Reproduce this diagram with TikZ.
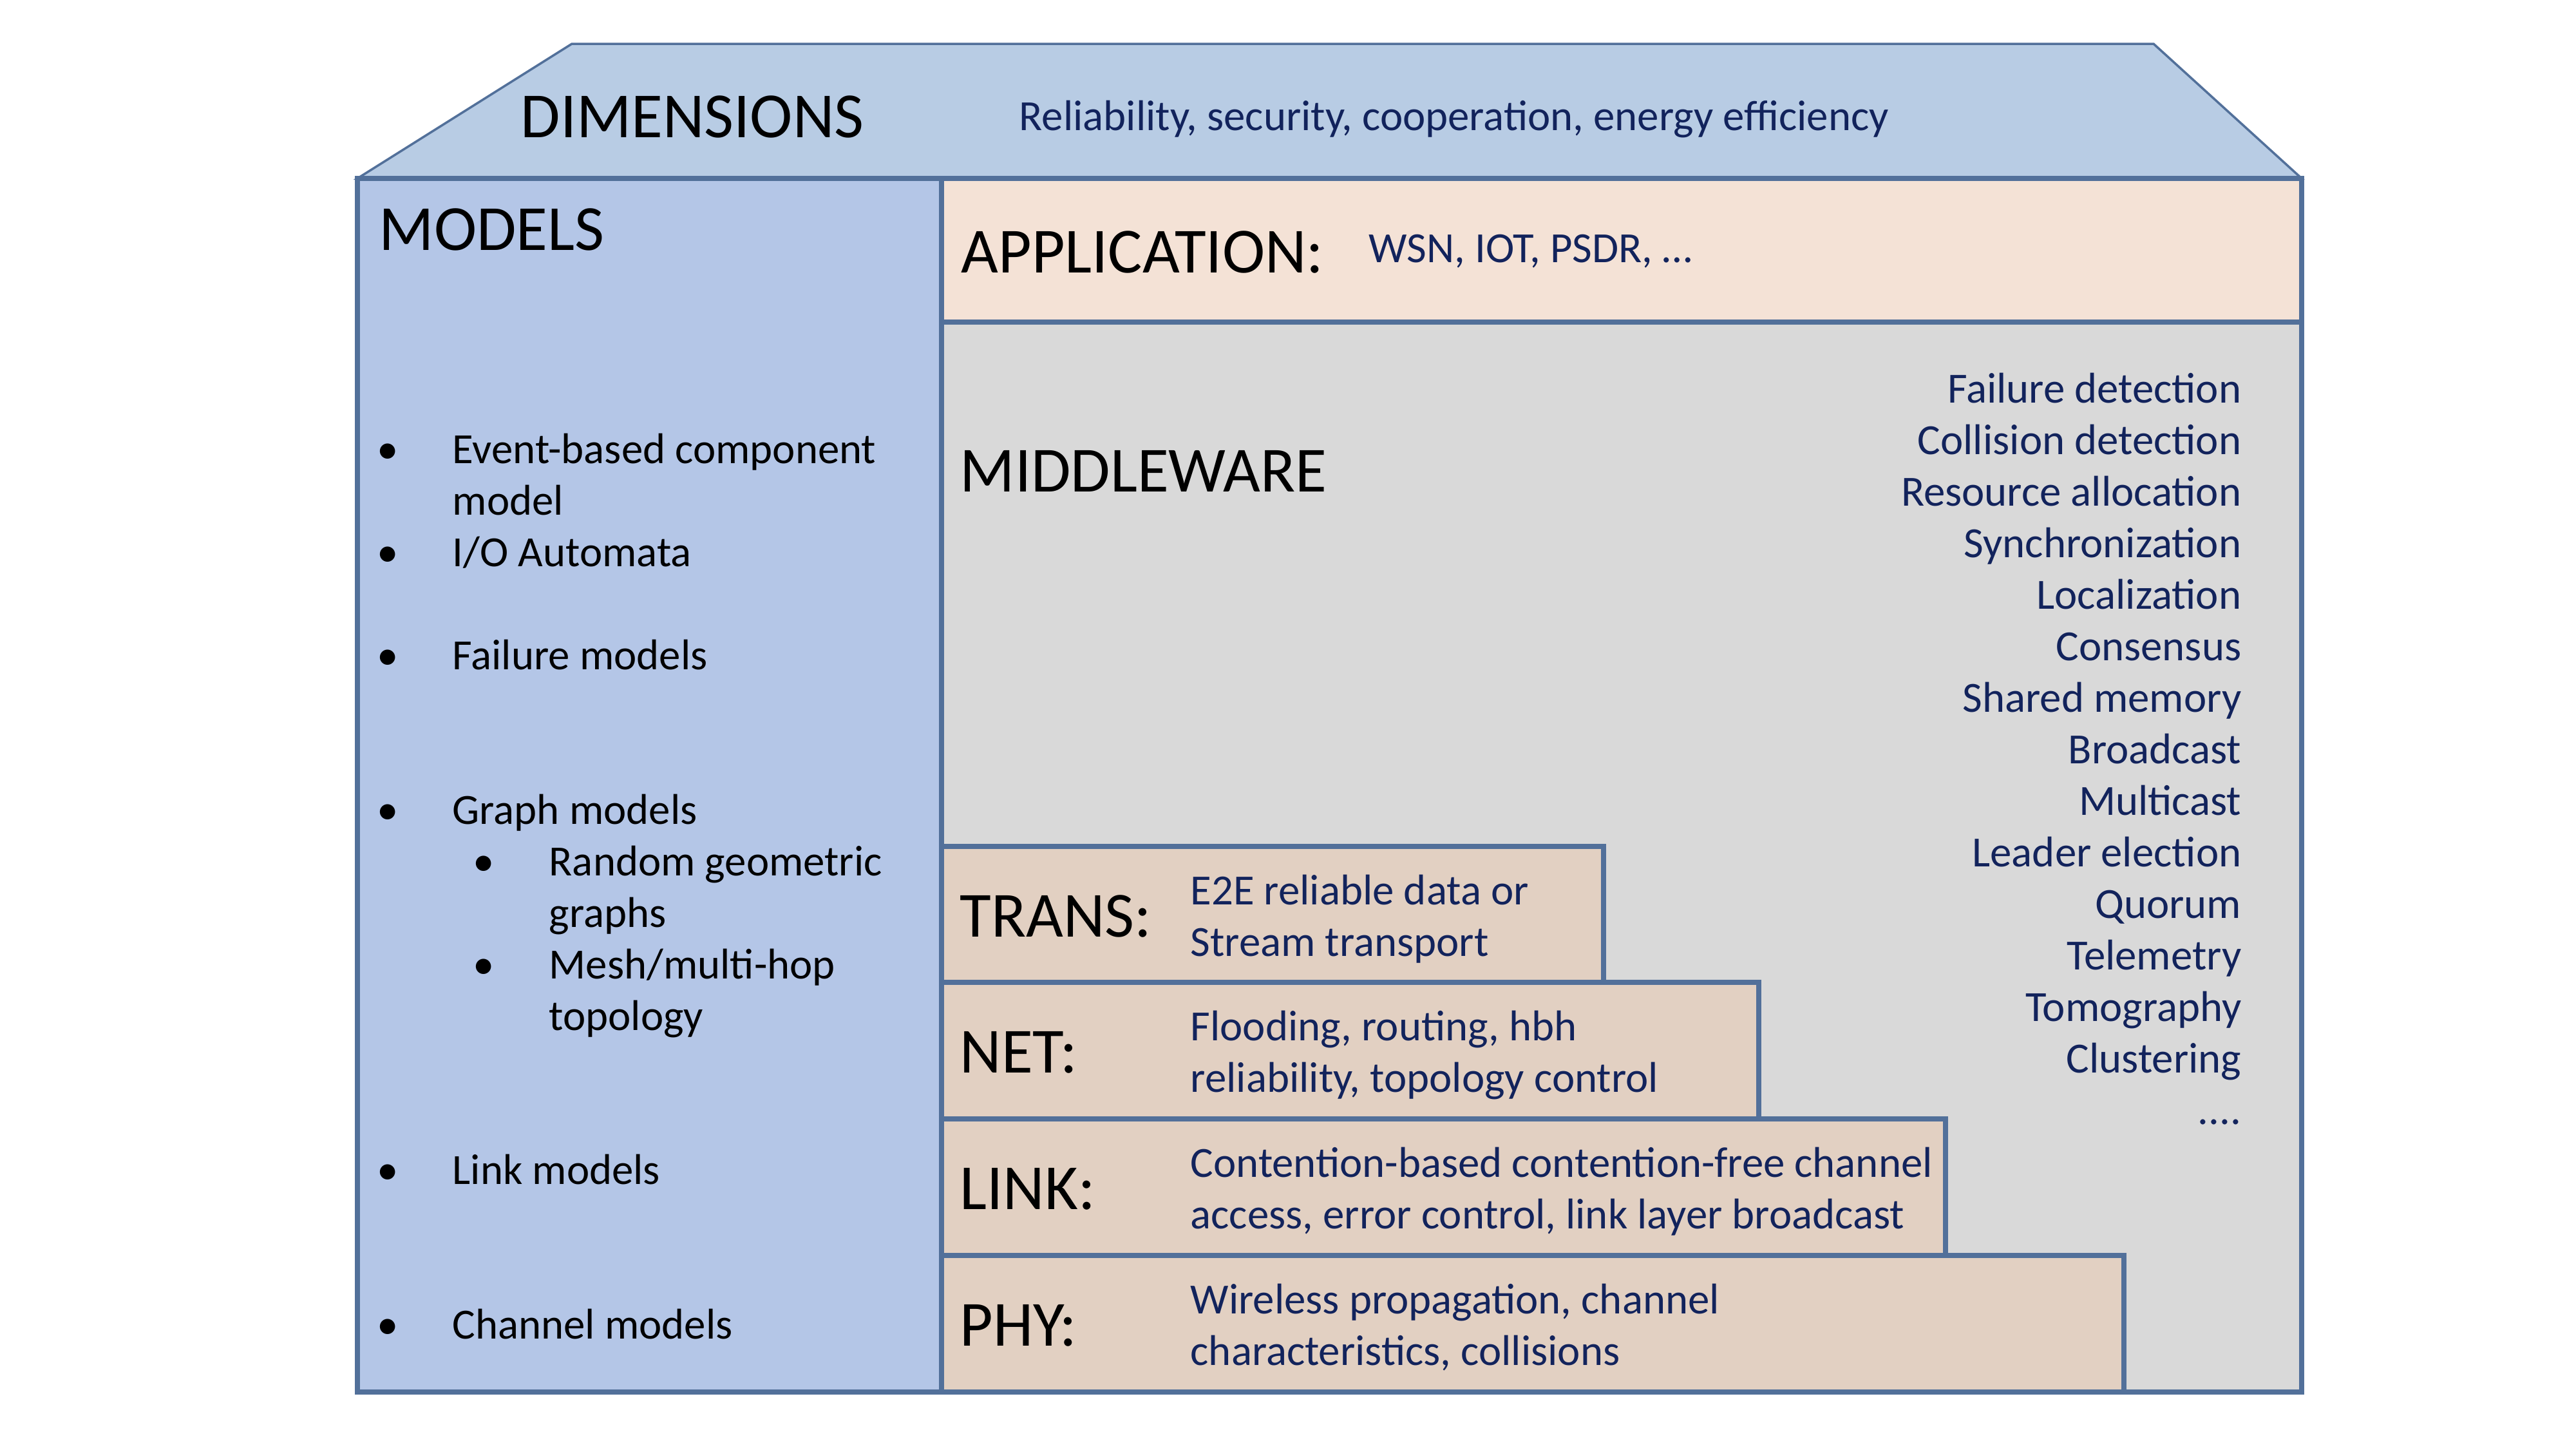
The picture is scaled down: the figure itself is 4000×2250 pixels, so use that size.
\documentclass[tikz,border=0pt]{standalone}
\usepackage{fontspec}
\setmainfont{Carlito}
\definecolor{frameblue}{HTML}{52709A}
\definecolor{roofblue}{HTML}{B8CCE4}
\definecolor{modelblue}{HTML}{B4C6E7}
\definecolor{appbeige}{HTML}{F4E2D6}
\definecolor{layertan}{HTML}{E2D0C2}
\definecolor{midgray}{HTML}{D9D9D9}
\definecolor{navytext}{HTML}{12235C}
\begin{document}
\begin{tikzpicture}[x=0.01cm,y=-0.01cm,
  panel/.style={draw=frameblue, line width=2.3pt, line join=miter},
  rooftop/.style={draw=frameblue, line width=1pt, fill=roofblue, line join=miter},
  heading/.style={font=\fontsize{28.4}{34}\selectfont, text=black, anchor=base west, inner sep=0pt},
  detail/.style={font=\fontsize{19}{22.8}\selectfont, text=navytext, anchor=base west, inner sep=0pt},
  listitem/.style={font=\fontsize{19}{22.8}\selectfont, text=black, anchor=base west, inner sep=0pt},
  bulletmark/.style={font=\fontsize{19}{22.8}\selectfont, text=black, anchor=base, inner sep=0pt},
  service/.style={font=\fontsize{19}{22.8}\selectfont, text=navytext, anchor=base east, inner sep=0pt}]

% canvas
\path[use as bounding box, fill=white] (0,0) rectangle (4000,2250);

% roof
\path[rooftop] (555,277) -- (888,68) -- (3344,68) -- (3574,277) -- cycle;

% main blocks
\path[panel, fill=modelblue] (555,277) rectangle (1462,2161);
\path[panel, fill=appbeige] (1462,277) rectangle (3574,500);
\path[panel, fill=midgray] (1462,500) rectangle (3574,2161);

% protocol stack layers
\path[panel, fill=layertan] (1462,1314) rectangle (2490,1525);
\path[panel, fill=layertan] (1462,1525) rectangle (2731,1737);
\path[panel, fill=layertan] (1462,1737) rectangle (3021,1949);
\path[panel, fill=layertan] (1462,1949) rectangle (3298,2161);

% roof texts
\node[heading] (dim) at (808,213) {DIMENSIONS};
\node[detail] (dimtxt) at (1582,202) {Reliability, security, cooperation, energy efficiency};

% models column
\node[heading] (models) at (588,388) {MODELS};
\node[bulletmark] (b1) at (602,719) {•};
\node[listitem] (i1a) at (702,719) {Event-based component};
\node[listitem] (i1b) at (702,799) {model};
\node[bulletmark] (b2) at (602,879) {•};
\node[listitem] (i2) at (702,879) {I/O Automata};
\node[bulletmark] (b3) at (602,1039) {•};
\node[listitem] (i3) at (702,1039) {Failure models};
\node[bulletmark] (b4) at (602,1279) {•};
\node[listitem] (i4) at (702,1279) {Graph models};
\node[bulletmark] (b4a) at (751,1359) {•};
\node[listitem] (i4a1) at (852,1359) {Random geometric};
\node[listitem] (i4a2) at (852,1439) {graphs};
\node[bulletmark] (b4b) at (751,1519) {•};
\node[listitem] (i4b1) at (852,1519) {Mesh/multi-hop};
\node[listitem] (i4b2) at (852,1599) {topology};
\node[bulletmark] (b5) at (602,1838) {•};
\node[listitem] (i5) at (702,1838) {Link models};
\node[bulletmark] (b6) at (602,2078) {•};
\node[listitem] (i6) at (702,2078) {Channel models};

% application
\node[heading] (app) at (1492,423) {APPLICATION:};
\node[detail] (apptxt) at (2125,407) {WSN, IOT, PSDR, …};

% middleware
\node[heading] (mid) at (1490,763) {MIDDLEWARE};
\foreach \s [count=\k from 0] in {Failure detection, Collision detection, Resource allocation,
  Synchronization, Localization, Consensus, Shared memory, Broadcast, Multicast,
  Leader election, Quorum, Telemetry, Tomography, Clustering}
  \node[service] (svc\k) at (3481,625+80*\k) {\s};
\node[service] (svcmore) at (3481,1745) {....};

% layer texts
\node[heading] (trans) at (1490,1454) {TRANS:};
\node[detail] (transa) at (1848,1404) {E2E reliable data or};
\node[detail] (transb) at (1848,1484) {Stream transport};

\node[heading] (net) at (1490,1665) {NET:};
\node[detail] (neta) at (1848,1615) {Flooding, routing, hbh};
\node[detail] (netb) at (1848,1695) {reliability, topology control};

\node[heading] (link) at (1490,1877) {LINK:};
\node[detail] (linka) at (1848,1827) {Contention-based contention-free channel};
\node[detail] (linkb) at (1848,1907) {access, error control, link layer broadcast};

\node[heading] (phy) at (1490,2089) {PHY:};
\node[detail] (phya) at (1848,2039) {Wireless propagation, channel};
\node[detail] (phyb) at (1848,2119) {characteristics, collisions};
\end{tikzpicture}
\end{document}
